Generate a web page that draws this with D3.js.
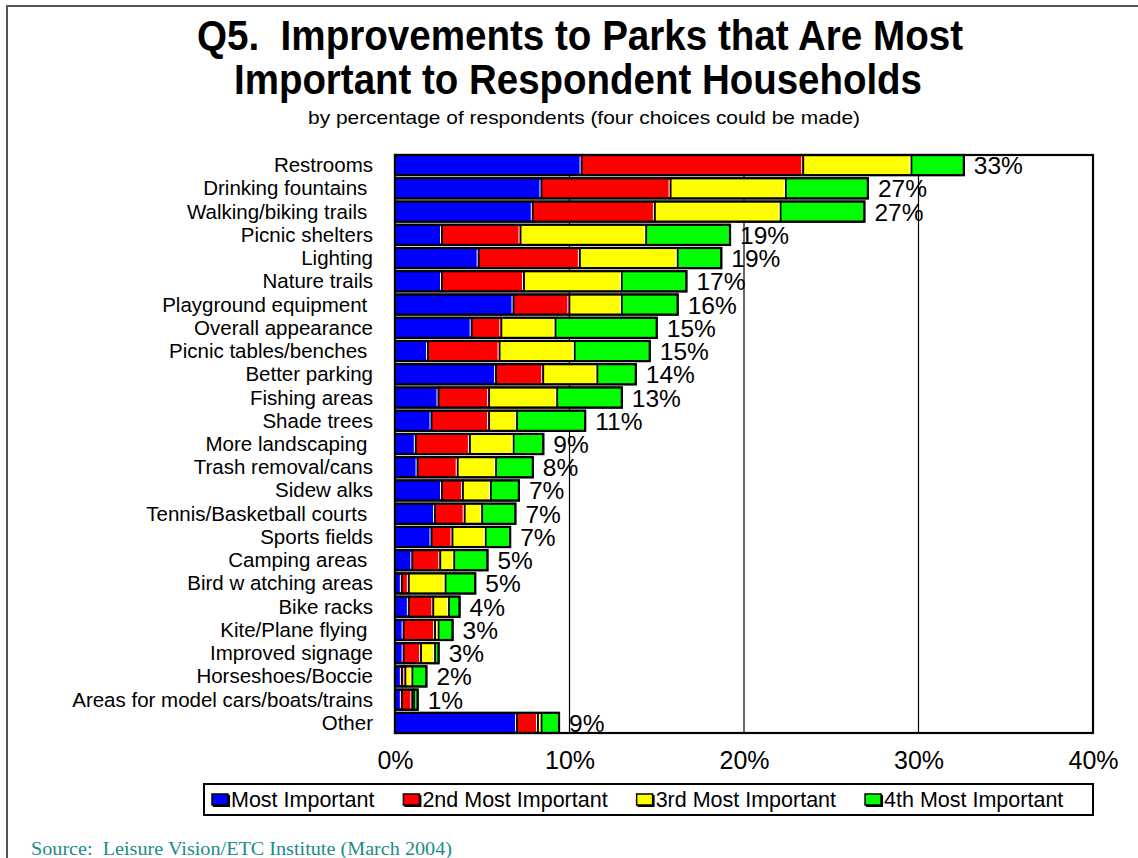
<!DOCTYPE html>
<html>
<head>
<meta charset="utf-8">
<script src="https://cdn.jsdelivr.net/npm/d3@7/dist/d3.min.js"></script>
<style>
  html, body { margin: 0; padding: 0; background: #fff; }
  svg { display: block; }
  text { font-family: "Liberation Sans", Arial, sans-serif; white-space: pre; }
  text.serif { font-family: "Liberation Serif", "Times New Roman", serif; }
</style>
</head>
<body>
<svg id="chart" width="1138" height="858"></svg>
<script>
// Park improvements, share of households choosing each item (percent)
const categories = [
  "Restrooms", "Drinking fountains ", "Walking/biking trails ", "Picnic shelters",
  "Lighting", "Nature trails", "Playground equipment ", "Overall appearance",
  "Picnic tables/benches ", "Better parking", "Fishing areas", "Shade trees",
  "More landscaping ", "Trash removal/cans", "Sidew alks", "Tennis/Basketball courts ",
  "Sports fields", "Camping areas ", "Bird w atching areas", "Bike racks",
  "Kite/Plane flying ", "Improved signage", "Horseshoes/Boccie",
  "Areas for model cars/boats/trains", "Other"
];
const mostImportant   = [10.7, 8.4, 7.9, 2.7, 4.8, 2.7, 6.8, 4.4, 1.9, 5.8, 2.5, 2.1, 1.2, 1.3, 2.7, 2.3, 2.1, 1.0, 0.4, 0.8, 0.5, 0.5, 0.4, 0.4, 7.0];
const secondImportant = [12.7, 7.4, 7.0, 4.5, 5.8, 4.7, 3.2, 1.7, 4.1, 2.7, 2.9, 3.3, 3.1, 2.3, 1.2, 1.7, 1.2, 1.6, 0.4, 1.4, 1.8, 1.0, 0.2, 0.6, 1.2];
const thirdImportant  = [6.2, 6.6, 7.2, 7.2, 5.6, 5.6, 3.0, 3.1, 4.3, 3.1, 3.9, 1.6, 2.5, 2.2, 1.6, 1.0, 1.9, 0.8, 2.1, 0.9, 0.2, 0.8, 0.4, 0.1, 0.2];
const fourthImportant = [3.0, 4.7, 4.8, 4.8, 2.5, 3.7, 3.2, 5.8, 4.3, 2.2, 3.7, 3.9, 1.7, 2.1, 1.6, 1.9, 1.4, 1.9, 1.7, 0.6, 0.8, 0.2, 0.8, 0.2, 1.0];
const totalLabels     = [33, 27, 27, 19, 19, 17, 16, 15, 15, 14, 13, 11, 9, 8, 7, 7, 7, 5, 5, 4, 3, 3, 2, 1, 9];
const seriesNames  = ["Most Important", "2nd Most Important", "3rd Most Important", "4th Most Important"];
const seriesColors = ["#0000ff", "#ff0000", "#ffff00", "#00ff00"];
const tickValues = [0, 10, 20, 30, 40];
const titleLines = ["Q5.  Improvements to Parks that Are Most", "Important to Respondent Households"];
const subtitle = "by percentage of respondents (four choices could be made)";
const source = "Source:  Leisure Vision/ETC Institute (March 2004)";

const svg = d3.select("#chart");
const W = 1138, H = 858;
const plot = { left: 395, right: 1093, top: 155, bottom: 733 };

// outer page frame (top and left edges)
svg.append("path")
  .attr("d", `M7,${H} L7,6 L${W},6`)
  .attr("fill", "none").attr("stroke", "#555").attr("stroke-width", 2);

// titles: tall, slightly condensed heading
const cx = 580;
svg.append("text").attr("x", cx).attr("y", 50).attr("text-anchor", "middle")
  .attr("font-weight", "bold").attr("font-size", 42)
  .attr("textLength", 766).attr("lengthAdjust", "spacingAndGlyphs")
  .text(titleLines[0]);
svg.append("text").attr("x", cx - 2).attr("y", 94).attr("text-anchor", "middle")
  .attr("font-weight", "bold").attr("font-size", 42)
  .attr("textLength", 688).attr("lengthAdjust", "spacingAndGlyphs")
  .text(titleLines[1]);
svg.append("text").attr("x", 584).attr("y", 124).attr("text-anchor", "middle")
  .attr("font-size", 19)
  .attr("textLength", 552).attr("lengthAdjust", "spacingAndGlyphs")
  .text(subtitle);

// scales
const x = d3.scaleLinear().domain([0, 40]).range([plot.left, plot.right]);
const y = d3.scaleBand().domain(categories).range([plot.top, plot.bottom])
  .paddingInner(0.13).paddingOuter(0);

// stacked data
const rows = categories.map((c, i) => ({
  cat: c,
  s0: mostImportant[i], s1: secondImportant[i], s2: thirdImportant[i], s3: fourthImportant[i],
  total: totalLabels[i]
}));
const stack = d3.stack().keys(["s0", "s1", "s2", "s3"])(rows);

// vertical gridlines
svg.append("g").selectAll("line").data(tickValues.slice(1, -1)).join("line")
  .attr("x1", d => x(d)).attr("x2", d => x(d))
  .attr("y1", plot.top).attr("y2", plot.bottom)
  .attr("stroke", "#000").attr("stroke-width", 1.2);

// bar segments
const bh = y.bandwidth();
stack.forEach((layer, k) => {
  const g = svg.append("g");
  g.selectAll("rect").data(layer).join("rect")
    .attr("x", d => x(d[0]))
    .attr("y", d => y(d.data.cat))
    .attr("width", d => Math.max(0, x(d[1]) - x(d[0])))
    .attr("height", bh)
    .attr("fill", seriesColors[k])
    .attr("stroke", "#000").attr("stroke-width", 1.6);
  // light edge inside the right end of each segment
  if (k < 3) {
    g.selectAll("line").data(layer.filter(d => x(d[1]) - x(d[0]) > 3)).join("line")
      .attr("x1", d => x(d[1]) - 1.6).attr("x2", d => x(d[1]) - 1.6)
      .attr("y1", d => y(d.data.cat) + 1.5).attr("y2", d => y(d.data.cat) + bh - 1.5)
      .attr("stroke", "#fff").attr("stroke-width", 1);
  }
});

// outline of each full bar
svg.append("g").selectAll("rect").data(stack[3]).join("rect")
  .attr("x", x(0))
  .attr("y", d => y(d.data.cat))
  .attr("width", d => x(d[1]) - x(0))
  .attr("height", bh)
  .attr("fill", "none").attr("stroke", "#000").attr("stroke-width", 2.2);

// plot frame
svg.append("rect")
  .attr("x", plot.left).attr("y", plot.top)
  .attr("width", plot.right - plot.left).attr("height", plot.bottom - plot.top)
  .attr("fill", "none").attr("stroke", "#000").attr("stroke-width", 2.2);

// total labels
svg.append("g").selectAll("text").data(stack[3]).join("text")
  .attr("x", d => x(d[1]) + 10)
  .attr("y", d => y(d.data.cat) + bh / 2 + 9)
  .attr("font-size", 24.5)
  .text(d => d.data.total + "%");

// category labels
svg.append("g").selectAll("text").data(categories).join("text")
  .attr("x", 373)
  .attr("y", d => y(d) + bh / 2 + 7)
  .attr("text-anchor", "end")
  .attr("font-size", 20.5)
  .text(d => d);

// x axis tick labels
const xAxis = d3.axisBottom(x).tickValues(tickValues).tickSize(0).tickPadding(0)
  .tickFormat(d => d + "%");
const ax = svg.append("g").attr("transform", `translate(0,${plot.bottom + 18})`).call(xAxis);
ax.select(".domain").remove();
ax.selectAll("text").attr("font-size", 25).attr("fill", "#000")
  .style("font-family", "'Liberation Sans', Arial, sans-serif");

// legend
const leg = { x: 204, y: 784, w: 1093 - 204, h: 31 };
svg.append("rect").attr("x", leg.x).attr("y", leg.y).attr("width", leg.w).attr("height", leg.h)
  .attr("fill", "#fff").attr("stroke", "#000").attr("stroke-width", 2);
let lx = 212;
seriesNames.forEach((name, k) => {
  svg.append("rect").attr("x", lx + 1).attr("y", leg.y + 11).attr("width", 17).attr("height", 12)
    .attr("fill", "#000");
  svg.append("rect").attr("x", lx).attr("y", leg.y + 10).attr("width", 16).attr("height", 11)
    .attr("fill", seriesColors[k]).attr("stroke", "#000").attr("stroke-width", 1.5);
  const t = svg.append("text").attr("x", lx + 19).attr("y", leg.y + 23)
    .attr("font-size", 21.5).text(name);
  lx += 19 + t.node().getComputedTextLength() + 29;
});

// source note
svg.append("text").attr("class", "serif").attr("x", 31).attr("y", 855)
  .attr("font-size", 18.5).attr("fill", "#1a8b8b")
  .attr("textLength", 421).attr("lengthAdjust", "spacingAndGlyphs")
  .text(source);
</script>
</body>
</html>
